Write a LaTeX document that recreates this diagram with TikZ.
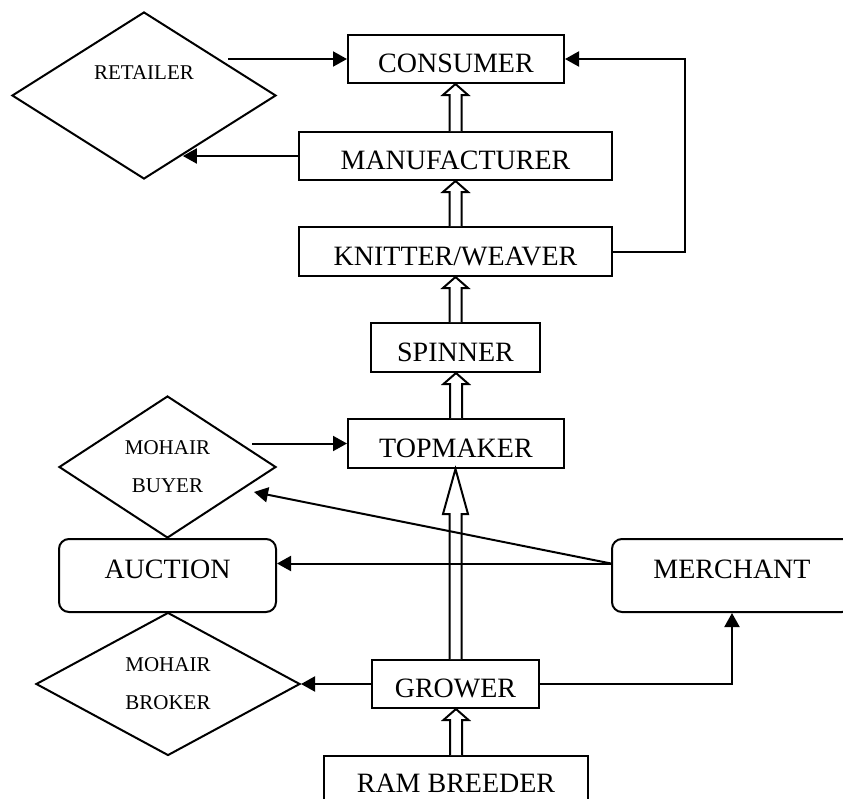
\documentclass[tikz,border=0pt]{standalone}
\usepackage{fontspec}
\setmainfont{Liberation Serif}
\usepackage{tikz}
\usetikzlibrary{shapes.geometric,arrows.meta,calc}

% hollow upright arrow between two boxes: from, to, head length
\newcommand{\fatarrow}[3]{%
\draw[fill=white] let \p1=(#1), \p2=(#2) in
  (\x1-3pt,\y1) -- (\x1-3pt,\y2-#3) -- (\x1-6.25pt,\y2-#3) -- (\x1,\y2)
  -- (\x1+6.25pt,\y2-#3) -- (\x1+3pt,\y2-#3) -- (\x1+3pt,\y1);}

\newcommand{\bfont}{\fontsize{14}{16}\selectfont}
\newcommand{\dfont}{\fontsize{10.5}{19}\selectfont}

\begin{document}
\begin{tikzpicture}[x=0.5pt,y=-0.5pt,line width=1pt,
  box/.style={draw,rectangle,inner sep=0pt,font=\bfont,text height=13.5pt,text depth=0pt},
  rbox/.style={draw,rectangle,rounded corners=5pt,inner sep=0pt,font=\bfont,text height=9.5pt,text depth=6.8pt},
  dia/.style={draw,diamond,inner sep=0pt,font=\dfont,align=center},
  arr/.style={-{Triangle[length=7pt,width=7.5pt]}}]
\useasboundingbox (0,0) rectangle (843,799);

\node[box,minimum width=108pt,minimum height=24pt] (consumer) at (456,59) {CONSUMER};
\node[box,minimum width=156.5pt,minimum height=24pt] (manufacturer) at (455.5,156) {MANUFACTURER};
\node[box,minimum width=156.5pt,minimum height=24.5pt] (knitter) at (455.5,251.5) {KNITTER/WEAVER};
\node[box,minimum width=84.5pt,minimum height=24.5pt] (spinner) at (455.5,347.5) {SPINNER};
\node[box,minimum width=108pt,minimum height=24.5pt] (topmaker) at (456,443.5) {TOPMAKER};
\node[box,minimum width=83.5pt,minimum height=24pt] (grower) at (455.5,684) {GROWER};
\node[box,minimum width=132pt,minimum height=23pt] (rambreeder) at (456,779) {RAM BREEDER};

\node[rbox,minimum width=108.5pt,minimum height=36.5pt] (auction) at (167.5,575.5) {AUCTION};
\node[rbox,minimum width=120pt,minimum height=36.5pt] (merchant) at (732,575.5) {MERCHANT};

\node[dia,minimum width=132pt,minimum height=83.5pt,
  label={[yshift=11.25pt,font=\dfont]center:RETAILER}] (retailer) at (144,95.5) {};
\node[dia,minimum width=108.5pt,minimum height=71pt] (buyer) at (167.5,467) {MOHAIR\\BUYER};
\node[dia,minimum width=132pt,minimum height=71.5pt] (broker) at (168,684) {MOHAIR\\BROKER};

% main chain
\fatarrow{manufacturer.north}{consumer.south}{5.5pt}
\fatarrow{knitter.north}{manufacturer.south}{5.5pt}
\fatarrow{spinner.north}{knitter.south}{5.5pt}
\fatarrow{topmaker.north}{spinner.south}{5.5pt}
\fatarrow{grower.north}{topmaker.south}{22.5pt}
\fatarrow{rambreeder.north}{grower.south}{5.5pt}

% side flows
\draw[arr] ($(consumer.west -| retailer.east)+(-24.5pt,0)$) -- (consumer.west);
\draw[arr] (manufacturer.west) -- (manufacturer.west -| retailer.-57);
\draw[arr] (knitter.east) -| ([xshift=60pt]consumer.east) -- (consumer.east);
\draw[arr] ($(topmaker.west -| buyer.east)+(-12.5pt,0)$) -- (topmaker.west);
\draw[arr] ([yshift=6pt]merchant.west) -- ([yshift=6pt]merchant.west -| auction.east);
\draw[arr] ([yshift=6pt]merchant.west) -- ($(buyer.east)+(-11.5pt,-12.5pt)$);
\draw[arr] (grower.west) -- (broker.east);
\draw[arr] (grower.east) -| (merchant.south);
\end{tikzpicture}
\end{document}
